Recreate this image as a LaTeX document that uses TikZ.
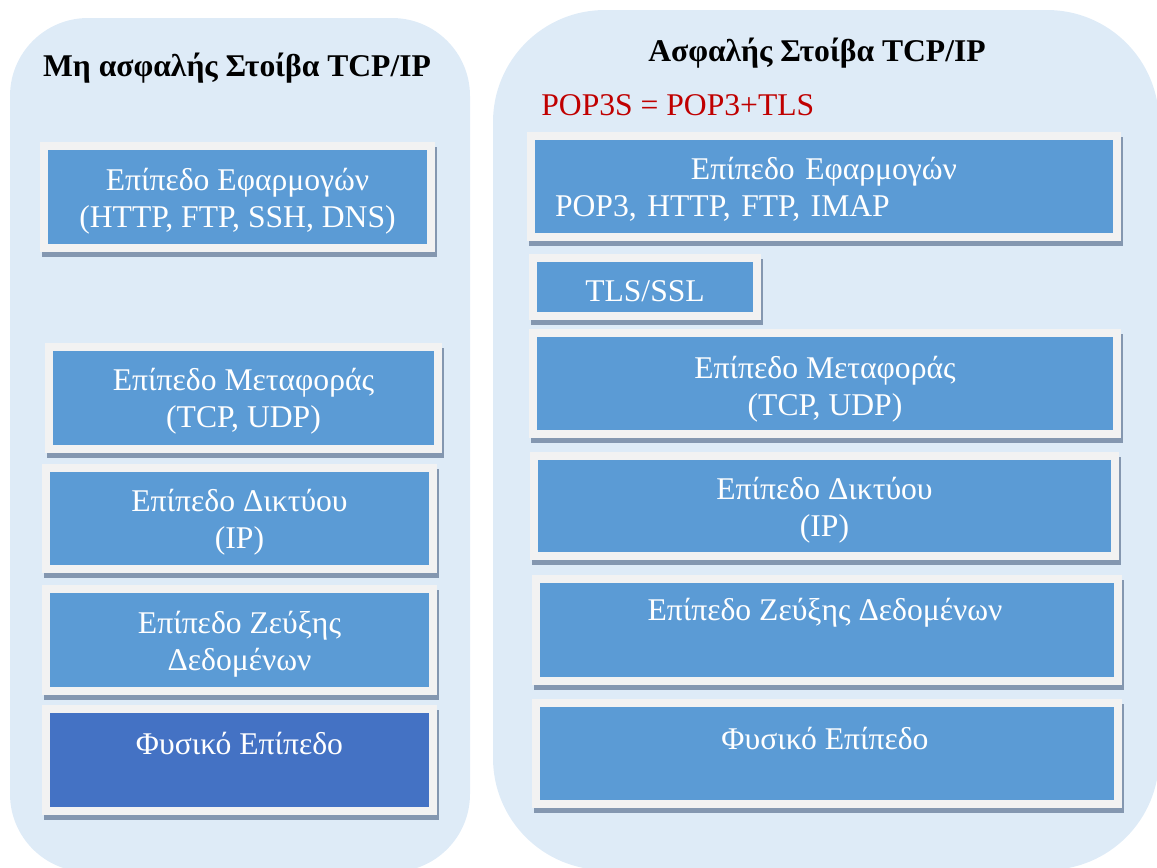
\documentclass[tikz,border=0pt]{standalone}
\usepackage{fontspec}
\setmainfont{Liberation Serif}
\usetikzlibrary{shadows}

\definecolor{panelblue}{HTML}{DEEBF7}
\definecolor{framegray}{HTML}{F2F2F2}
\definecolor{layerblue}{HTML}{5B9BD5}
\definecolor{physblue}{HTML}{4472C4}
\definecolor{shadowblue}{HTML}{8497B0}
\definecolor{popred}{HTML}{C00000}

\tikzset{
	layer/.style={draw=framegray, line width=0.16cm, fill=layerblue, inner sep=0pt,
		drop shadow={shadow xshift=1.1pt, shadow yshift=-2.8pt, opacity=1, fill=shadowblue, draw=shadowblue, line width=0.16cm}},
	layertext/.style={text=white, inner sep=0pt, align=center, font=\fontsize{18}{21}\selectfont},
	heading/.style={inner sep=0pt, font=\fontsize{18}{21}\selectfont\bfseries}
}

\begin{document}
\begin{tikzpicture}[x=0.02cm, y=-0.02cm]
		%%%%% START %%%%%
		\useasboundingbox (0, 0) rectangle (1157, 867);
		\clip (0, 0) rectangle (1157, 867);
		
		\fill[panelblue, rounded corners=1.56cm] (10, 18) rectangle (470, 872);
		\fill[panelblue, rounded corners=2.24cm] (493, 10) rectangle (1159, 870);
		
		% left stack
		\node[heading] (lTitle) at (237, 68) {Μη ασφαλής Στοίβα TCP/IP};
		
		\node[layer, minimum width=7.74cm, minimum height=2.04cm] (lApp) at (237.5, 197) {};
		\node[layertext] (lAppText) at (237.5, 201.5) {Επίπεδο Εφαρμογών\\(HTTP, FTP, SSH, DNS)};
		
		\node[layer, minimum width=7.78cm, minimum height=2.04cm] (lTrans) at (243.5, 398) {};
		\node[layertext] (lTransText) at (243.5, 401) {Επίπεδο Μεταφοράς\\(TCP, UDP)};
		
		\node[layer, minimum width=7.74cm, minimum height=2.02cm] (lNet) at (239.5, 518.5) {};
		\node[layertext] (lNetText) at (239.5, 522.5) {Επίπεδο Δικτύου\\(IP)};
		
		\node[layer, minimum width=7.74cm, minimum height=2.04cm] (lLink) at (239.5, 640) {};
		\node[layertext] (lLinkText) at (239.5, 644) {Επίπεδο Ζεύξης\\Δεδομένων};
		
		\node[layer, fill=physblue, minimum width=7.74cm, minimum height=2.04cm] (lPhys) at (239.5, 760) {};
		\node[layertext] (lPhysText) at (239.5, 743) {Φυσικό Επίπεδο};
		
		% right stack
		\node[heading] (rTitle) at (817, 53) {Ασφαλής Στοίβα TCP/IP};
		\node[inner sep=0pt, anchor=west, text=popred, font=\fontsize{18}{21}\selectfont] (pop3s) at (541, 105) {POP3S = POP3+TLS};
		
		\node[layer, minimum width=11.72cm, minimum height=2.02cm] (rApp) at (824, 186.5) {};
		\node[layertext, text width=11.72cm] (rAppText) at (824, 189) {Επίπεδο Εφαρμογών\\\hspace*{0.48cm}POP3, HTTP, FTP, IMAP\hfill\null};
		
		\node[layer, minimum width=4.48cm, minimum height=1.16cm] (rTls) at (645, 287) {};
		\node[layertext] (rTlsText) at (645, 291) {TLS/SSL};
		
		\node[layer, minimum width=11.68cm, minimum height=2.02cm] (rTrans) at (825, 383.5) {};
		\node[layertext] (rTransText) at (825, 389) {Επίπεδο Μεταφοράς\\(TCP, UDP)};
		
		\node[layer, minimum width=11.62cm, minimum height=2.0cm] (rNet) at (824.5, 506) {};
		\node[layertext] (rNetText) at (824.5, 510.5) {Επίπεδο Δικτύου\\(IP)};
		
		\node[layer, minimum width=11.64cm, minimum height=2.04cm] (rLink) at (827, 630) {};
		\node[layertext] (rLinkText) at (825, 613) {Επίπεδο Ζεύξης Δεδομένων};
		
		\node[layer, minimum width=11.64cm, minimum height=2.02cm] (rPhys) at (827, 753.5) {};
		\node[layertext] (rPhysText) at (825, 738) {Φυσικό Επίπεδο};
		
		%%%%% END %%%%%
\end{tikzpicture}
\end{document}
